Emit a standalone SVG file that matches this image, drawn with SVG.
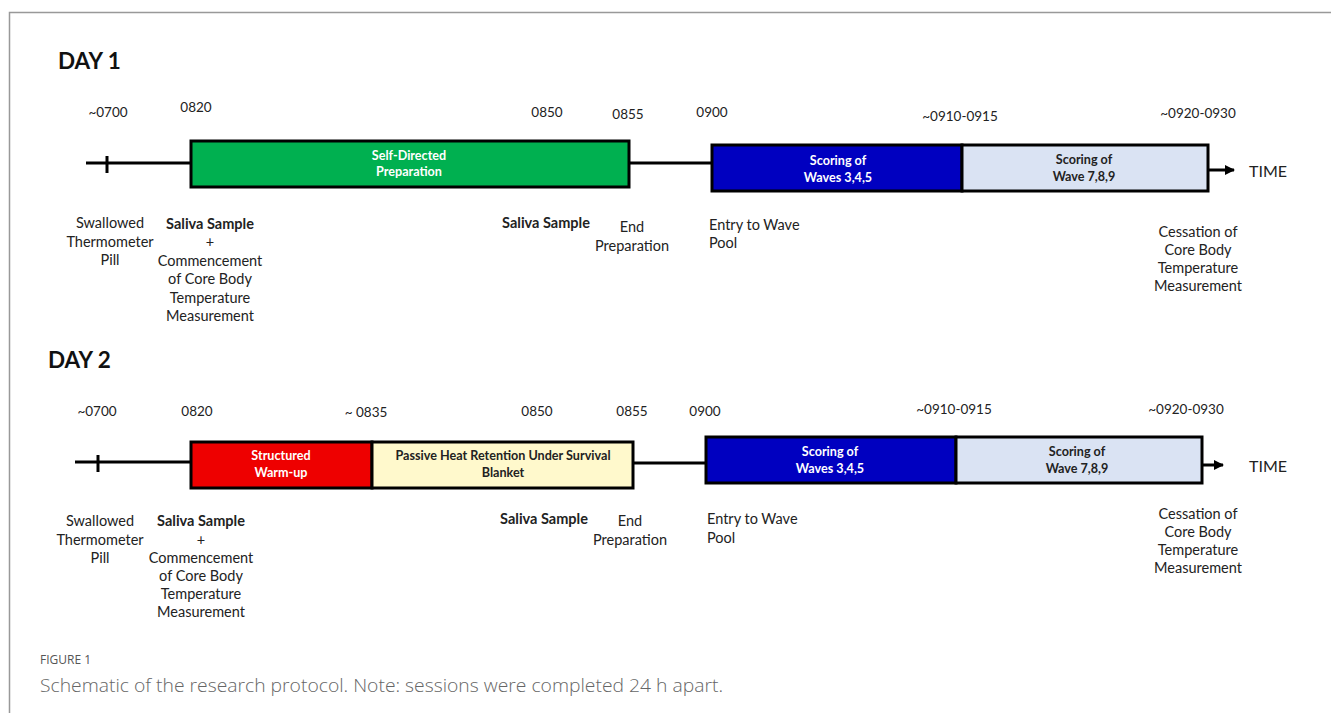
<svg xmlns="http://www.w3.org/2000/svg" width="1331" height="713" viewBox="0 0 1331 713">
<defs>
<marker id="arr" markerWidth="10" markerHeight="10" refX="9" refY="5" orient="auto" markerUnits="userSpaceOnUse">
<path d="M0,0 L10,5 L0,10 z" fill="#000"/>
</marker>
</defs>
<style>
text{font-family:Lato,"Open Sans","Liberation Sans",sans-serif;fill:#222}
.t{font-size:14.5px}
.tm{font-size:13.5px;text-anchor:middle}
.c{text-anchor:middle}
.b{font-weight:bold}
.box{stroke:#000;stroke-width:3}
.ln{stroke:#000;stroke-width:3;fill:none}
.w{fill:#fff;font-weight:bold;font-size:12.6px;text-anchor:middle}
.d{fill:#222;font-weight:bold;font-size:12.6px;text-anchor:middle}
.day{font-size:22.5px;font-weight:bold;fill:#111}
</style>
<rect width="1331" height="713" fill="#fff"/>
<path d="M9.5,713 V12.5 H1331" fill="none" stroke="#999" stroke-width="1.5"/>

<g id="connectors">
<line class="ln" x1="86" y1="163" x2="191" y2="163"/>
<line class="ln" x1="107" y1="156" x2="107" y2="173"/>
<line class="ln" x1="629" y1="163" x2="712" y2="163"/>
<line class="ln" x1="1208" y1="170" x2="1234" y2="170" marker-end="url(#arr)"/>
<line class="ln" x1="75" y1="462" x2="191" y2="462"/>
<line class="ln" x1="98" y1="455" x2="98" y2="472"/>
<line class="ln" x1="633" y1="463" x2="706" y2="463"/>
<line class="ln" x1="1202" y1="465" x2="1223" y2="465" marker-end="url(#arr)"/>
</g>

<g id="day1-title"><text class="day" x="58" y="69">DAY 1</text></g>

<g id="d1-times">
<text class="tm" x="108" y="117">~0700</text>
<text class="tm" x="196" y="112">0820</text>
<text class="tm" x="547" y="117">0850</text>
<text class="tm" x="628" y="119">0855</text>
<text class="tm" x="712" y="117">0900</text>
<text class="tm" x="960" y="121">~0910-0915</text>
<text class="tm" x="1198" y="118">~0920-0930</text>
</g>

<g id="d1-prep">
<rect class="box" x="191" y="141" width="438" height="46" fill="#00B050"/>
<text class="w" x="409" y="160">Self-Directed</text>
<text class="w" x="409" y="176">Preparation</text>
</g>
<g id="d1-waves345">
<rect class="box" x="712" y="145" width="250" height="46" fill="#0000C0"/>
<text class="w" x="838" y="165">Scoring of</text>
<text class="w" x="838" y="182">Waves 3,4,5</text>
</g>
<g id="d1-waves789">
<rect class="box" x="962" y="145" width="246" height="46" fill="#DAE3F3"/>
<text class="d" x="1084" y="164">Scoring of</text>
<text class="d" x="1084" y="181">Wave 7,8,9</text>
</g>
<g id="d1-time"><text x="1249" y="177" style="font-size:16px">TIME</text></g>

<g id="d1-pill">
<text class="t c" x="110" y="228">Swallowed</text>
<text class="t c" x="110" y="247">Thermometer</text>
<text class="t c" x="110" y="265">Pill</text>
</g>
<g id="d1-saliva1">
<text class="t c b" x="210" y="229">Saliva Sample</text>
<text class="t c" x="210" y="247">+</text>
<text class="t c" x="210" y="266">Commencement</text>
<text class="t c" x="210" y="284">of Core Body</text>
<text class="t c" x="210" y="303">Temperature</text>
<text class="t c" x="210" y="321">Measurement</text>
</g>
<g id="d1-saliva2"><text class="t c b" x="546" y="228">Saliva Sample</text></g>
<g id="d1-end">
<text class="t c" x="632" y="232">End</text>
<text class="t c" x="632" y="251">Preparation</text>
</g>
<g id="d1-entry">
<text class="t" x="709" y="230">Entry to Wave</text>
<text class="t" x="709" y="248">Pool</text>
</g>
<g id="d1-cess">
<text class="t c" x="1198" y="237">Cessation of</text>
<text class="t c" x="1198" y="255">Core Body</text>
<text class="t c" x="1198" y="273">Temperature</text>
<text class="t c" x="1198" y="291">Measurement</text>
</g>

<g id="day2-title"><text class="day" x="48" y="368">DAY 2</text></g>

<g id="d2-times">
<text class="tm" x="97" y="416">~0700</text>
<text class="tm" x="197" y="416">0820</text>
<text class="tm" x="366" y="417">~ 0835</text>
<text class="tm" x="537" y="416">0850</text>
<text class="tm" x="632" y="416">0855</text>
<text class="tm" x="705" y="416">0900</text>
<text class="tm" x="954" y="414">~0910-0915</text>
<text class="tm" x="1186" y="414">~0920-0930</text>
</g>

<g id="d2-warmup">
<rect class="box" x="191" y="442" width="181" height="46" fill="#EE0000"/>
<text class="w" x="281" y="460">Structured</text>
<text class="w" x="281" y="477">Warm-up</text>
</g>
<g id="d2-passive">
<rect class="box" x="372" y="442" width="261" height="46" fill="#FFF9CC"/>
<text class="d" x="503" y="460">Passive Heat Retention Under Survival</text>
<text class="d" x="503" y="477">Blanket</text>
</g>
<g id="d2-waves345">
<rect class="box" x="706" y="437" width="250" height="46" fill="#0000C0"/>
<text class="w" x="830" y="456">Scoring of</text>
<text class="w" x="830" y="473">Waves 3,4,5</text>
</g>
<g id="d2-waves789">
<rect class="box" x="956" y="437" width="246" height="46" fill="#DAE3F3"/>
<text class="d" x="1077" y="456">Scoring of</text>
<text class="d" x="1077" y="473">Wave 7,8,9</text>
</g>
<g id="d2-time"><text x="1249" y="472" style="font-size:16px">TIME</text></g>

<g id="d2-pill">
<text class="t c" x="100" y="526">Swallowed</text>
<text class="t c" x="100" y="545">Thermometer</text>
<text class="t c" x="100" y="563">Pill</text>
</g>
<g id="d2-saliva1">
<text class="t c b" x="201" y="526">Saliva Sample</text>
<text class="t c" x="201" y="545">+</text>
<text class="t c" x="201" y="563">Commencement</text>
<text class="t c" x="201" y="581">of Core Body</text>
<text class="t c" x="201" y="599">Temperature</text>
<text class="t c" x="201" y="617">Measurement</text>
</g>
<g id="d2-saliva2"><text class="t c b" x="544" y="524">Saliva Sample</text></g>
<g id="d2-end">
<text class="t c" x="630" y="526">End</text>
<text class="t c" x="630" y="545">Preparation</text>
</g>
<g id="d2-entry">
<text class="t" x="707" y="524">Entry to Wave</text>
<text class="t" x="707" y="543">Pool</text>
</g>
<g id="d2-cess">
<text class="t c" x="1198" y="519">Cessation of</text>
<text class="t c" x="1198" y="537">Core Body</text>
<text class="t c" x="1198" y="555">Temperature</text>
<text class="t c" x="1198" y="573">Measurement</text>
</g>

<g id="caption">
<text x="40" y="664" style="font-size:12px;fill:#555;font-family:'Open Sans','Liberation Sans',sans-serif">FIGURE 1</text>
<text x="40" y="692" textLength="683" lengthAdjust="spacingAndGlyphs" style="font-size:18px;fill:#666;font-family:'Open Sans','Liberation Sans',sans-serif;font-weight:300">Schematic of the research protocol. Note: sessions were completed 24 h apart.</text>
</g>
</svg>
